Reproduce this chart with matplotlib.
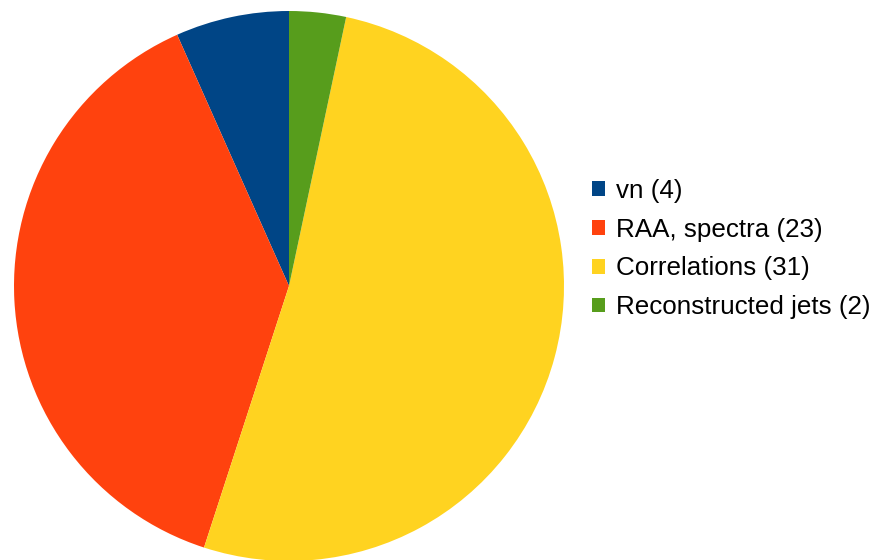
import matplotlib
matplotlib.use("Agg")
import matplotlib.pyplot as plt

categories = ["vn", "RAA, spectra", "Correlations", "Reconstructed jets"]
counts = [4, 23, 31, 2]
colors = ["#004586", "#ff420e", "#ffd320", "#579d1c"]

plt.rcParams['font.family'] = ['Liberation Sans', 'DejaVu Sans']

fig = plt.figure(figsize=(8.75, 5.6), dpi=100)
W, H = 875, 560
cx, cy_top, r = 289, 286, 275
ax = fig.add_axes([(cx - r) / W, (H - cy_top - r) / H, 2 * r / W, 2 * r / H])
wedges, _ = ax.pie(counts, colors=colors, startangle=90, counterclock=True,
                   radius=1.0, wedgeprops=dict(linewidth=0))
ax.set_xlim(-1, 1)
ax.set_ylim(-1, 1)
ax.set_aspect('equal')
ax.axis('off')

labels = [f"{c} ({n})" for c, n in zip(categories, counts)]
fig.legend(wedges, labels, loc='center left', bbox_to_anchor=(592 / W, 1 - 249 / H),
           frameon=False, fontsize=18.7, borderpad=0, handlelength=0.5, handleheight=0.5,
           handletextpad=0.42, labelspacing=0.57, borderaxespad=0)

fig.savefig("out.png", dpi=100)
